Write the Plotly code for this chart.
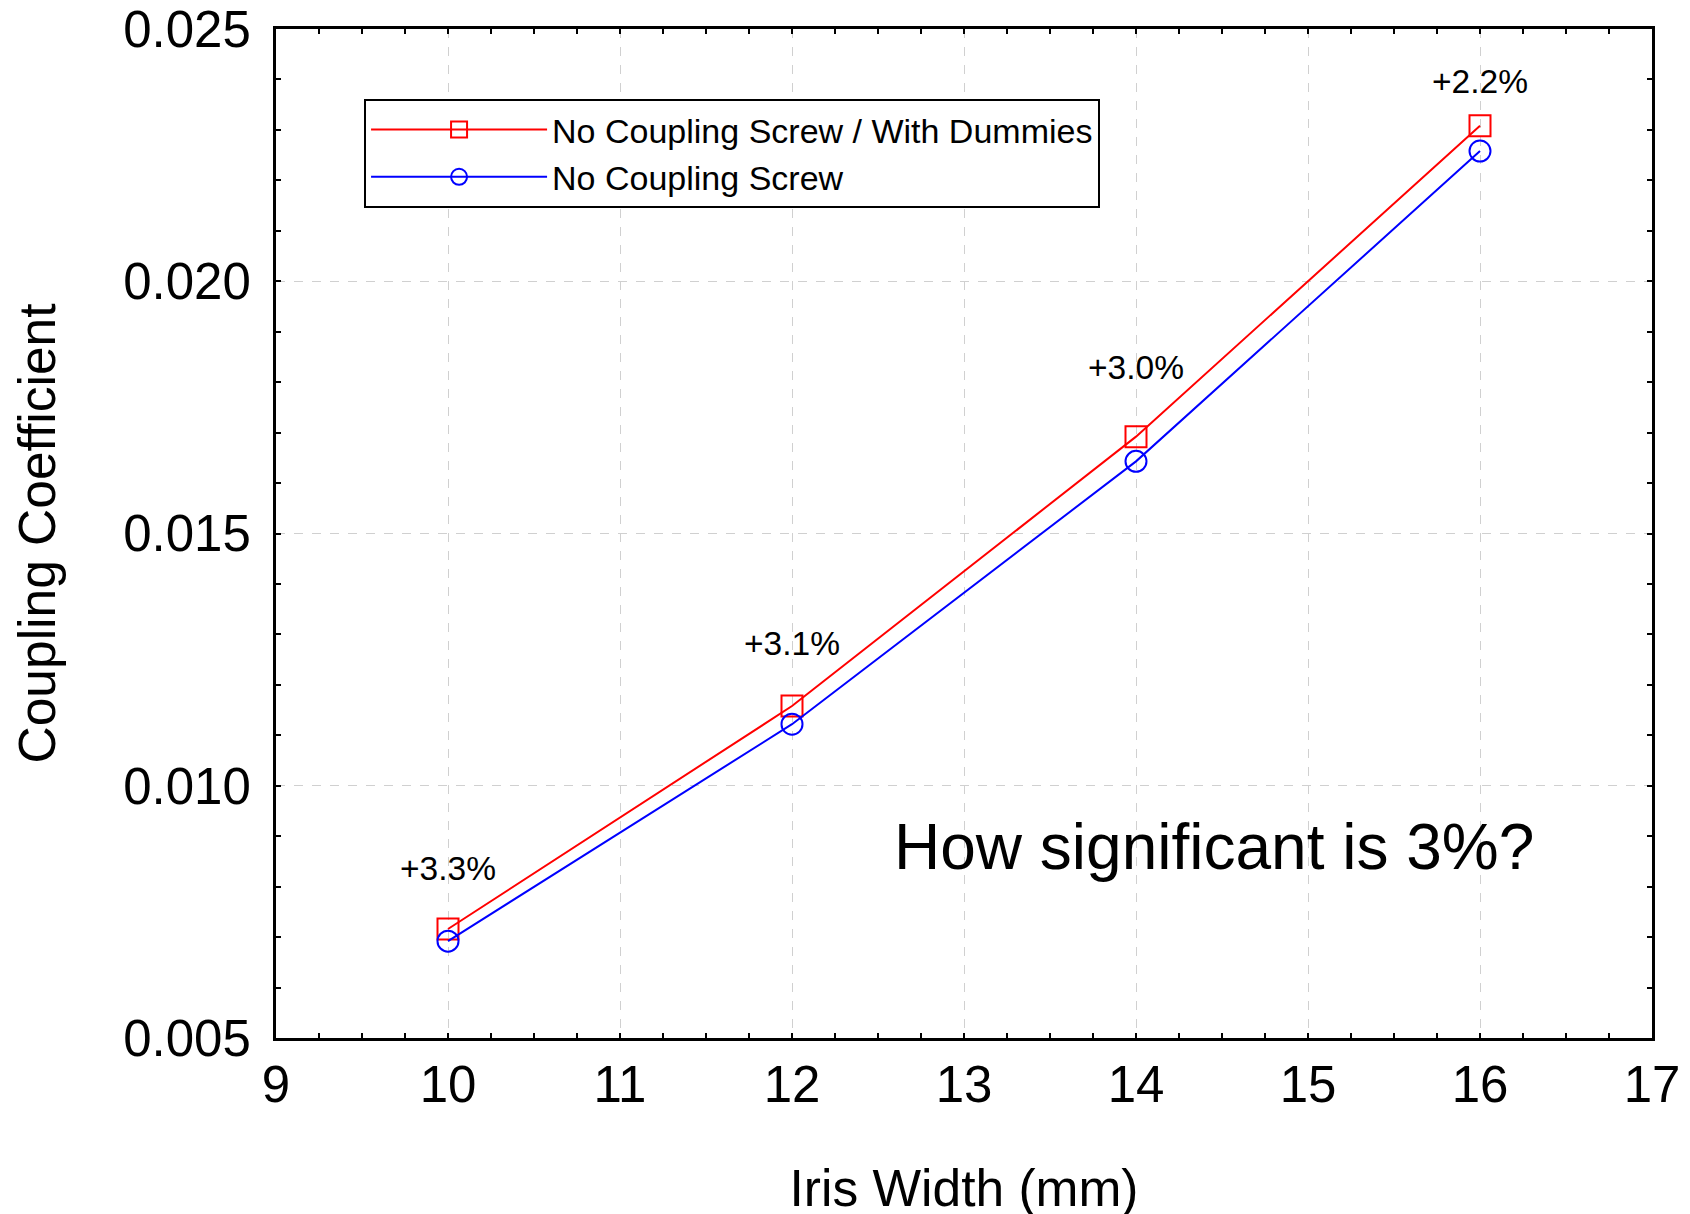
import plotly.graph_objects as go

iris_width = [10, 12, 14, 16]
with_dummies = [0.00716, 0.01158, 0.01692, 0.02308]
no_screw = [0.00692, 0.01122, 0.01643, 0.02258]
pct_labels = ["+3.3%", "+3.1%", "+3.0%", "+2.2%"]
pct_label_y = [0.00835, 0.01282, 0.01829, 0.02395]

FONT = "Liberation Sans, Arial, sans-serif"

fig = go.Figure()
fig.add_trace(go.Scatter(
    x=iris_width, y=with_dummies, mode="lines+markers",
    name="No Coupling Screw / With Dummies",
    line=dict(color="#ff0000", width=2),
    marker=dict(symbol="square-open", size=21, color="#ff0000", line=dict(width=2)),
))
fig.add_trace(go.Scatter(
    x=iris_width, y=no_screw, mode="lines+markers",
    name="No Coupling Screw",
    line=dict(color="#0000ff", width=2),
    marker=dict(symbol="circle-open", size=21, color="#0000ff", line=dict(width=2)),
))

for x, y, t in zip(iris_width, pct_label_y, pct_labels):
    fig.add_annotation(x=x, y=y, text=t, showarrow=False,
                       font=dict(size=33.5, color="black", family=FONT))

fig.add_annotation(x=14.455, y=0.00878, text="How significant is 3%?", showarrow=False,
                   font=dict(size=64, color="black", family=FONT))

axis_common = dict(
    showline=True, linecolor="black", linewidth=3, mirror="ticks",
    ticks="inside", ticklen=5, tickwidth=2, tickcolor="black",
    showgrid=True, gridcolor="#d0d0d0", gridwidth=1, griddash="dash",
    zeroline=False, automargin=False, ticklabeloverflow="allow",
    tickfont=dict(size=51, color="black", family=FONT),
)

fig.update_xaxes(
    range=[9, 17], tickmode="linear", tick0=9, dtick=1,
    minor=dict(dtick=0.25, ticks="inside", ticklen=5, tickwidth=2, tickcolor="black", showgrid=False),
    title=dict(text="Iris Width (mm)", font=dict(size=51.5, color="black", family=FONT), standoff=58),
    ticklabelstandoff=0,
    **axis_common,
)
fig.update_yaxes(
    range=[0.005, 0.025], tickmode="linear", tick0=0.005, dtick=0.005, tickformat=".3f",
    minor=dict(dtick=0.001, ticks="inside", ticklen=5, tickwidth=2, tickcolor="black", showgrid=False),
    title=dict(text="Coupling Coefficient", font=dict(size=51.5, color="black", family=FONT), standoff=54),
    ticklabelstandoff=12,
    **axis_common,
)

fig.update_layout(
    width=1690, height=1214,
    margin=dict(l=268, r=46, t=21, b=184),
    plot_bgcolor="white", paper_bgcolor="white",
    font=dict(family=FONT, color="black"),
    legend=dict(
        x=0.064, y=0.9306, xanchor="left", yanchor="top",
        bordercolor="black", borderwidth=2, bgcolor="white",
        font=dict(size=34, color="black", family=FONT),
        tracegroupgap=0, itemwidth=176,
    ),
)

fig.write_html("out.html")
